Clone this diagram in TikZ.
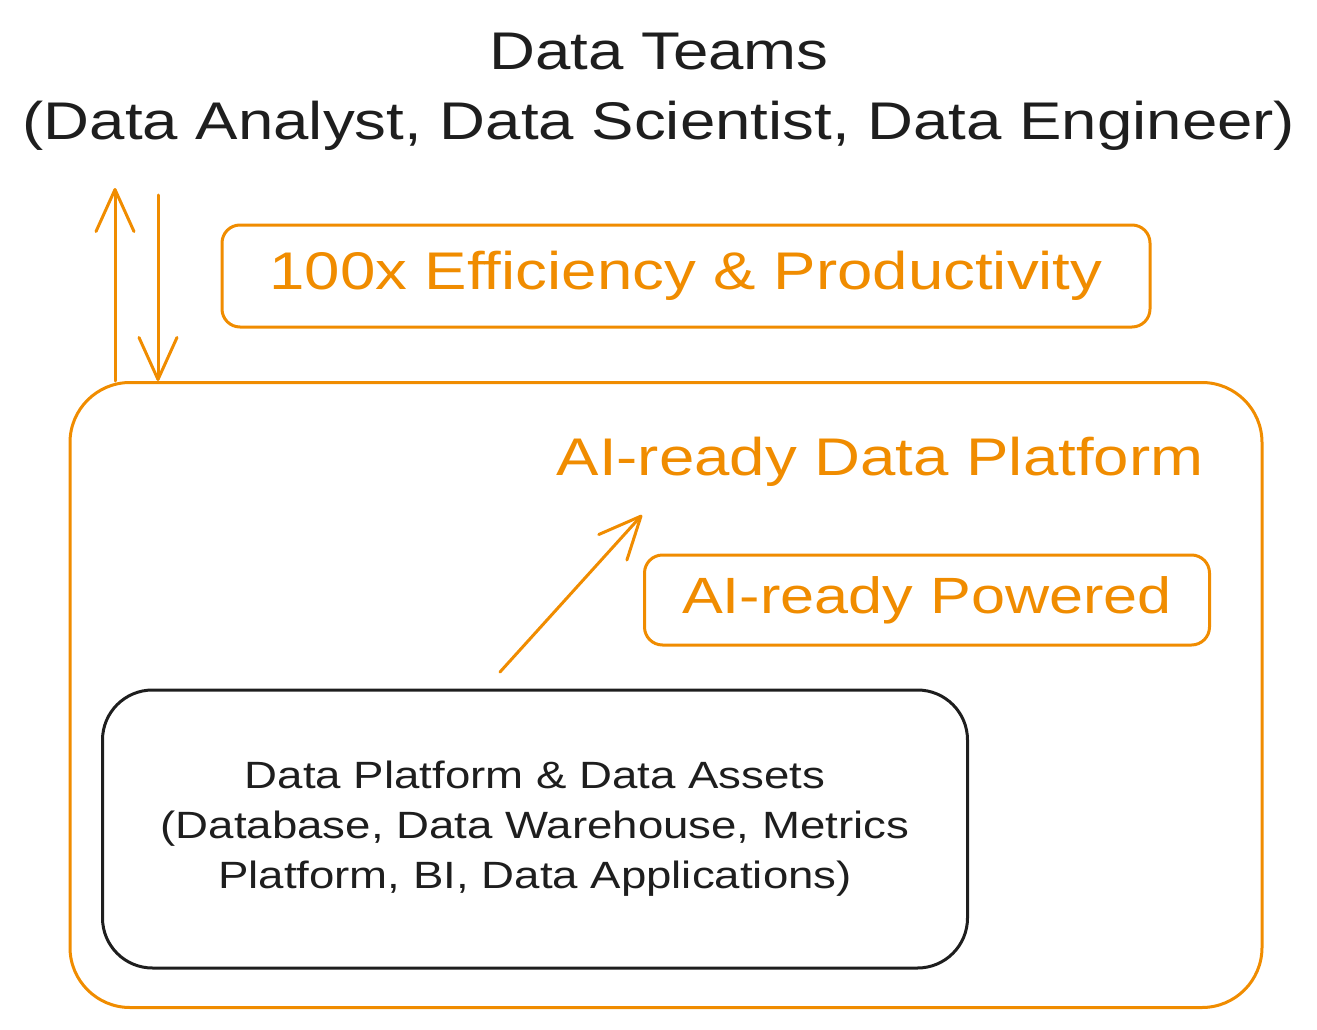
\documentclass[tikz,border=0pt]{standalone}
\usepackage{fontspec}
\setmainfont[FakeStretch=1.2]{Liberation Sans}
\usetikzlibrary{arrows.meta}
\definecolor{org}{HTML}{F08C00}
\definecolor{ink}{HTML}{1E1E1E}
\begin{document}
\begin{tikzpicture}[x=1pt,y=-1pt,
  obox/.style={draw=org,line width=3pt,rounded corners=18pt},
  bigbox/.style={draw=org,line width=3pt,rounded corners=60pt},
  kbox/.style={draw=ink,line width=3pt,rounded corners=50pt},
  otext/.style={text=org,font=\fontsize{53}{60}\selectfont},
  ttext/.style={text=ink,font=\fontsize{53}{70}\selectfont,align=center},
  ktext/.style={text=ink,font=\fontsize{38}{50}\selectfont,align=center},
  oarrow/.style={draw=org,line width=3pt,line cap=round,-{Straight Barb[length=42pt,width=38pt,line width=3pt,round]}}]
\useasboundingbox (0,0) rectangle (1317,1030);
\node[ttext] (title) at (659,92) {Data Teams\\(Data Analyst, Data Scientist, Data Engineer)};
\node[obox,minimum width=928pt,minimum height=102pt] (eff) at (686,276) {};
\node[otext] (efft) at (eff.center) {100x Efficiency \& Productivity};
\node[bigbox,minimum width=1192pt,minimum height=625pt] (plat) at (666,695) {};
\node[otext] (platt) at (880,462) {AI-ready Data Platform};
\node[obox,minimum width=565pt,minimum height=90pt] (pow) at (927,600) {};
\node[otext,font=\fontsize{51}{60}\selectfont] (powt) at (pow.center) {AI-ready Powered};
\node[kbox,minimum width=865pt,minimum height=278pt] (assets) at (535,829) {};
\node[ktext] (assetst) at (assets.center) {Data Platform \& Data Assets\\(Database, Data Warehouse, Metrics\\Platform, BI, Data Applications)};
\coordinate (upS) at (115,381);
\coordinate (upE) at (115,188);
\coordinate (dnS) at (158,195);
\coordinate (dnE) at (158,381);
\draw[oarrow] (upS) -- (upE);
\draw[oarrow] (dnS) -- (dnE);
\coordinate (dgS) at (500,672);
\coordinate (dgE) at (642,515);
\draw[oarrow] (dgS) -- (dgE);
\end{tikzpicture}
\end{document}
